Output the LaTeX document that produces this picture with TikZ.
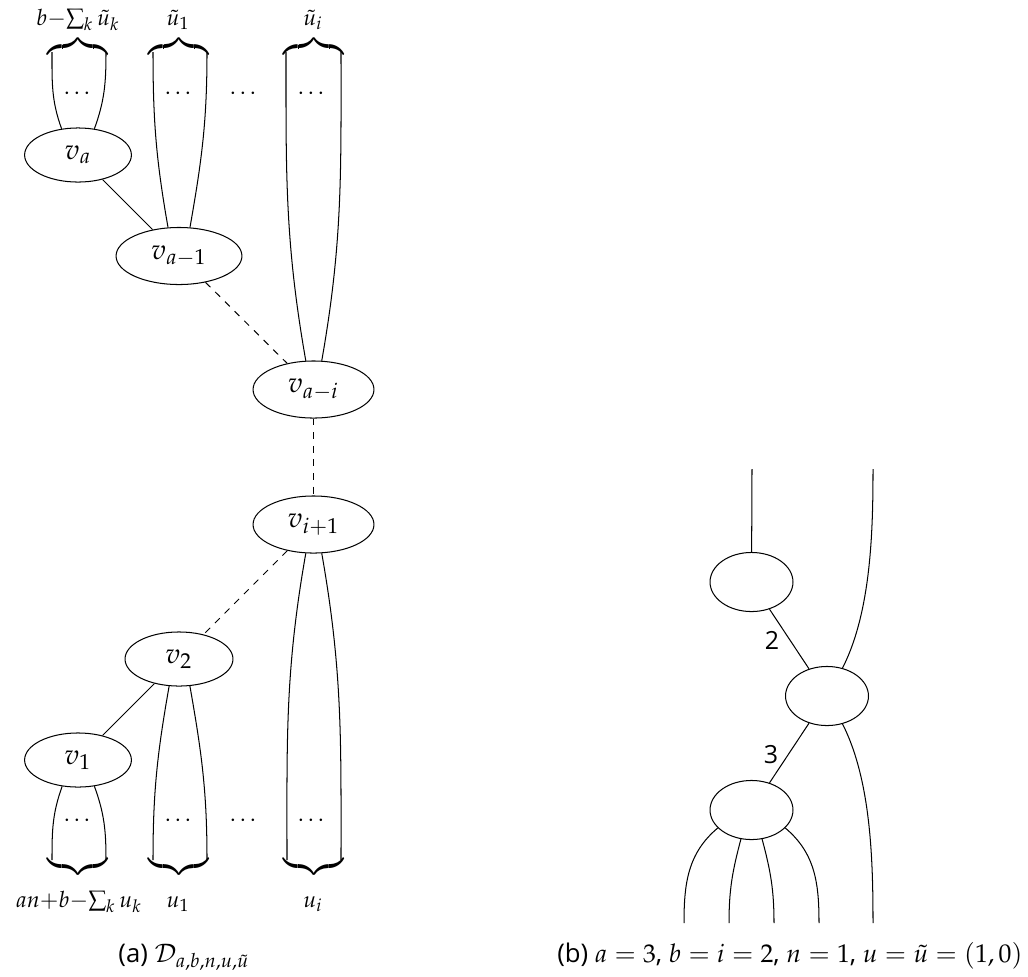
\documentclass[tikz,border=0pt]{standalone}
\usepackage{mathpazo}
\usepackage{fontspec}
\setmainfont{Open Sans}
\usetikzlibrary{shapes.geometric}
\begin{document}
\begin{tikzpicture}[x=0.44pt,y=-0.44pt,
  vtx/.style={ellipse,draw,inner sep=0pt,font=\fontsize{12.5}{15}\selectfont},
  lbl/.style={inner sep=0pt},
  brc/.style={inner sep=0pt,font=\fontsize{14}{16}\selectfont},
  brl/.style={inner sep=0pt,anchor=base,font=\fontsize{13}{15}\selectfont},
  captxt/.style={inner sep=0pt,font=\fontsize{11.3}{13.5}\selectfont},
  every path/.style={line width=0.45pt}]
\useasboundingbox (0,0) rectangle (1028,976);
% ---------- (a) ----------
\node[vtx,minimum width=47pt,minimum height=23.8pt] (va) at (78,155) {$v_a$};
\node[vtx,minimum width=55.4pt,minimum height=25.1pt] (vam) at (179,256) {$v_{a-1}$};
\node[vtx,minimum width=53.2pt,minimum height=25.1pt] (vai) at (313.5,389.5) {$v_{a-i}$};
\node[vtx,minimum width=53.2pt,minimum height=25.1pt] (vip) at (313.5,524.5) {$v_{i+1}$};
\node[vtx,minimum width=47.5pt,minimum height=23.8pt] (v2) at (179,659) {$v_2$};
\node[vtx,minimum width=47pt,minimum height=23.8pt] (v1) at (78,760) {$v_1$};

\draw (va) -- (vam);
\draw[dashed] (vam) -- (vai);
\draw[dashed] (vai) -- (vip);
\draw[dashed] (vip) -- (v2);
\draw (v2) -- (v1);

\coordinate (a1) at (52,52);  \coordinate (a2) at (106,52);
\coordinate (b1) at (153,52); \coordinate (b2) at (207,52);
\coordinate (c1) at (286,52); \coordinate (c2) at (341,52);
\coordinate (d1) at (52,860);  \coordinate (d2) at (106,860);
\coordinate (e1) at (153,860); \coordinate (e2) at (207,860);
\coordinate (f1) at (287,860); \coordinate (f2) at (341,860);

\draw (va.122) to[out=110,in=-90] (a1);
\draw (va.58) to[out=70,in=-90] (a2);
\draw (vam.111) to[out=100,in=-90] (b1);
\draw (vam.69) to[out=80,in=-90] (b2);
\draw (vai.105) to[out=100,in=-90] (c1);
\draw (vai.74) to[out=80,in=-90] (c2);

\draw (v1.-121) to[out=-110,in=90] (d1);
\draw (v1.-58) to[out=-70,in=90] (d2);
\draw (v2.-110) to[out=-100,in=90] (e1);
\draw (v2.-68) to[out=-80,in=90] (e2);
\draw (vip.-105) to[out=-100,in=90] (f1);
\draw (vip.-74) to[out=-80,in=90] (f2);

\node[lbl] (da) at (77,93) {$\ldots$};
\node[lbl] (db) at (178,93) {$\ldots$};
\node[lbl] (dm) at (243,93) {$\ldots$};
\node[lbl] (dc) at (311,93) {$\ldots$};
\node[lbl] (ea) at (77,820) {$\ldots$};
\node[lbl] (eb) at (178,820) {$\ldots$};
\node[lbl] (em) at (243,820) {$\ldots$};
\node[lbl] (ec) at (311,820) {$\ldots$};

% braces
\node[brc,anchor=south] (ba) at (78,56) {$\overbrace{\hspace{27pt}}$};
\node[brc,anchor=south] (bb) at (179,56) {$\overbrace{\hspace{27pt}}$};
\node[brc,anchor=south] (bc) at (314,56) {$\overbrace{\hspace{27pt}}$};
\node[brc,anchor=north] (ua) at (78,857) {$\underbrace{\hspace{27pt}}$};
\node[brc,anchor=north] (ub) at (179,857) {$\underbrace{\hspace{27pt}}$};
\node[brc,anchor=north] (uc) at (314,857) {$\underbrace{\hspace{27pt}}$};
% brace labels
\node[brl] (la) at (78,25) {$\scriptstyle b-\sum_k \tilde u_k$};
\node[brl] (lb) at (178,25) {$\scriptstyle \tilde u_1$};
\node[brl] (lc) at (313,25) {$\scriptstyle \tilde u_i$};
\node[brl] (ma) at (79,907) {$\scriptstyle an+b-\sum_k u_k$};
\node[brl] (mb) at (178,907) {$\scriptstyle u_1$};
\node[brl] (mc) at (313,907) {$\scriptstyle u_i$};

\node[captxt,anchor=base] (capa) at (184,962) {(a) $\mathcal{D}_{a,b,n,u,\tilde u}$};

% ---------- (b) ----------
\node[vtx,minimum width=36.5pt,minimum height=26pt] (p) at (751.5,582) {};
\node[vtx,minimum width=36.5pt,minimum height=26pt] (q) at (827,696) {};
\node[vtx,minimum width=36.5pt,minimum height=26pt] (r) at (751.5,810) {};
\coordinate (pt) at (752,469);
\coordinate (qt) at (873,469);
\coordinate (qb) at (873,923);
\coordinate (rb1) at (684,923);
\coordinate (rb2) at (729,923);
\coordinate (rb3) at (774,923);
\coordinate (rb4) at (819,923);

\draw (p) -- (pt);
\draw (p) -- (q);
\draw (q) -- (r);
\draw (q.61) to[out=63,in=-90,looseness=0.8] (qt);
\draw (q.-61) to[out=-63,in=90,looseness=0.8] (qb);
\draw (r.208) to[out=-140,in=90] (rb1);
\draw (r.-110) to[out=-105,in=90] (rb2);
\draw (r.-70) to[out=-75,in=90] (rb3);
\draw (r.-28) to[out=-40,in=90] (rb4);

\node[font=\fontsize{11}{13}\selectfont] (l2) at (772,640) {2};
\node[font=\fontsize{11}{13}\selectfont] (l3) at (771,755) {3};

\node[captxt,anchor=base east] (capb) at (1023,962) {(b) $a=3$, $b=i=2$, $n=1$, $u=\tilde u=(1,0)$};
\end{tikzpicture}
\end{document}
